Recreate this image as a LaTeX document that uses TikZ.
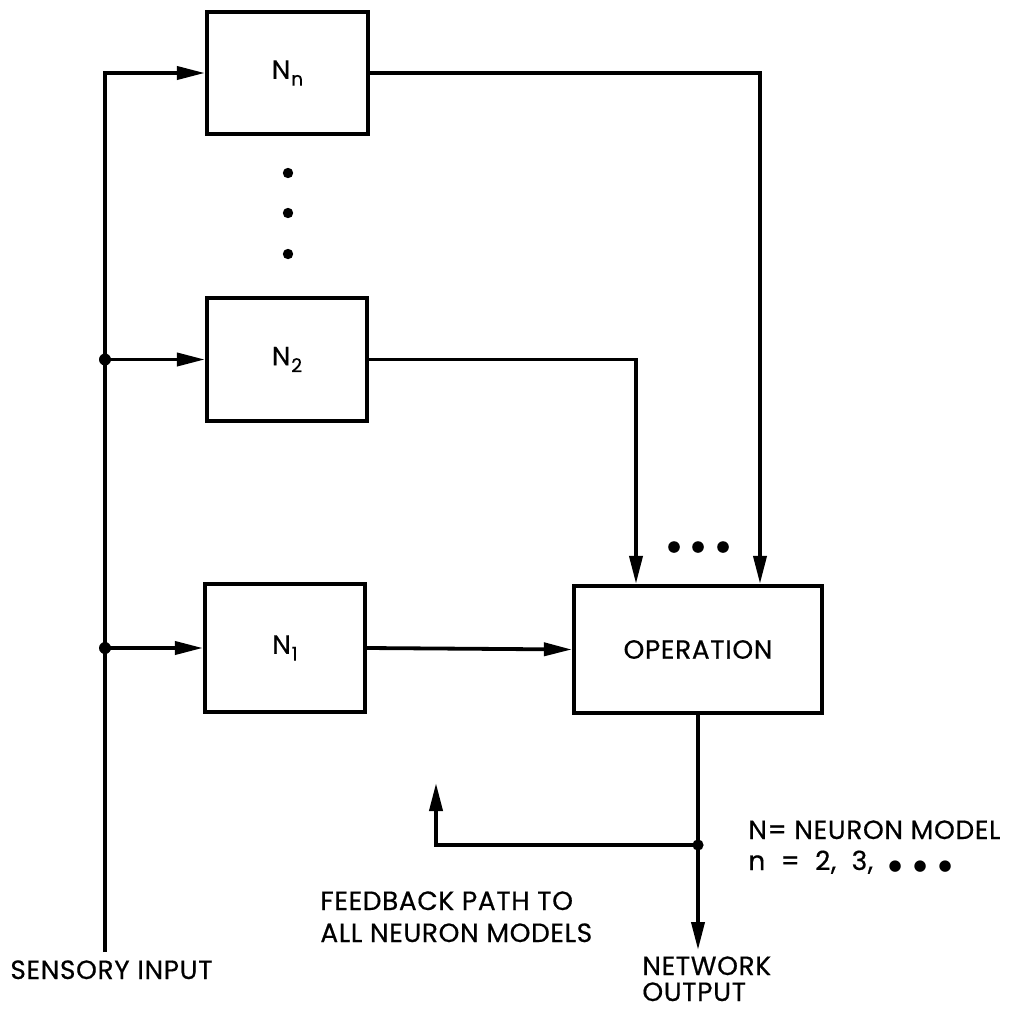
\documentclass[tikz,border=0pt]{standalone}
\usepackage{fontspec}
\setmainfont{Poppins}[FakeBold=0.5, LetterSpace=2.5]
\newfontfamily\dvsans{DejaVu Sans}
\usetikzlibrary{arrows.meta}
\newcommand\Nlab[1]{N\kern0.4pt\raisebox{-3.4pt}{\fontsize{9.5pt}{9.5pt}\selectfont #1}}
\newcommand\bigdot{{\dvsans\fontsize{7.5pt}{7.5pt}\selectfont ●}}
\begin{document}
\begin{tikzpicture}[x=0.5pt,y=-0.5pt,
  blk/.style={draw, line width=2.1pt, inner sep=0pt, font=\fontsize{13.2pt}{15pt}\selectfont},
  wire/.style={line width=1.9pt},
  arr/.style={wire, -{Triangle[length=14pt,width=6.5pt]}},
  lbl/.style={font=\fontsize{13.2pt}{15pt}\selectfont, inner sep=0pt}
]
\useasboundingbox (0,0) rectangle (1012,1013);

% blocks
\node[blk, minimum width=80.5pt, minimum height=61pt] (Nn) at (287.5,73) {\Nlab{n}};
\node[blk, minimum width=80pt, minimum height=61.5pt] (N2) at (287,359.5) {\Nlab{2}};
\node[blk, minimum width=80pt, minimum height=64pt] (N1) at (285,648) {\Nlab{1}};
\node[blk, minimum width=124pt, minimum height=63.5pt] (OP) at (698,649.5) {OPERATION};

% coordinates
\coordinate (inBot) at (105,952);
\coordinate (inTop) at (105,73);
\coordinate (j2) at (105,359.5);
\coordinate (j1) at (105,648);
\coordinate (fb) at (698,845);
\coordinate (fbEnd) at (436,783);
\coordinate (outEnd) at (698,950);

% input bus
\draw[wire, line join=miter] (inBot) -- (inTop) -- ([xshift=-14pt]Nn.west);
\draw[arr] (inTop) -- (Nn.west);
\draw[arr] (j2) -- (N2.west);
\draw[arr] (j1) -- (N1.west);
\fill (j2) circle (3pt);
\fill (j1) circle (3pt);

% outputs to operation
\draw[arr] (N1.east) -- (OP.west);
\draw[arr] (N2.east) -| ([xshift=-31pt]OP.north);
\draw[arr] (Nn.east) -| ([xshift=31pt]OP.north);

% network output and feedback
\draw[arr] (OP.south) -- (outEnd);
\draw[arr] (fb) -| (fbEnd);
\fill (fb) circle (2.8pt);

% ellipsis dots
\fill (288,173) circle (2.6pt);
\fill (288,213) circle (2.6pt);
\fill (288,254) circle (2.6pt);
\fill (674,547) circle (2.9pt);
\fill (698,547) circle (2.9pt);
\fill (723,547) circle (2.9pt);

% labels
\node[lbl, anchor=base west] (key1) at (748,839) {N= NEURON MODEL};
\node[lbl, anchor=base west] (key2) at (748,870) {n \ = \ 2, \ 3, \ \bigdot\hspace{6pt}\bigdot\hspace{6pt}\bigdot};
\node[lbl, anchor=base west] (fbl1) at (320,910) {FEEDBACK PATH TO};
\node[lbl, anchor=base west] (fbl2) at (320,942) {ALL NEURON MODELS};
\node[lbl, anchor=base west] (netl1) at (642,975) {NETWORK};
\node[lbl, anchor=base west] (netl2) at (642,1001) {OUTPUT};
\node[lbl, anchor=base west] (sens) at (10,979) {SENSORY INPUT};
\end{tikzpicture}
\end{document}
